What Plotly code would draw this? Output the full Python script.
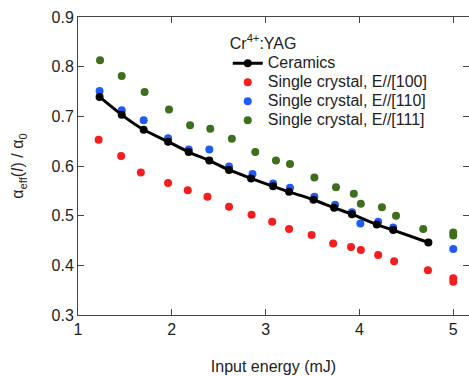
import plotly.graph_objects as go

# Ceramics
cer_x = [1.23, 1.466, 1.70, 1.96, 2.18, 2.40, 2.61, 2.845, 3.08, 3.25, 3.51, 3.73, 3.92, 4.185, 4.36, 4.735]
cer_y = [0.739, 0.703, 0.673, 0.649, 0.628, 0.611, 0.592, 0.575, 0.559, 0.548, 0.532, 0.516, 0.503, 0.482, 0.471, 0.446]

# Single crystal, E//[100]
red_x = [1.22, 1.46, 1.67, 1.96, 2.17, 2.38, 2.61, 2.85, 3.07, 3.25, 3.49, 3.72, 3.91, 4.015, 4.20, 4.37, 4.73, 5.0, 5.0]
red_y = [0.653, 0.620, 0.587, 0.566, 0.551, 0.538, 0.518, 0.502, 0.488, 0.473, 0.461, 0.444, 0.437, 0.431, 0.421, 0.408, 0.390, 0.374, 0.367]

# Single crystal, E//[110]
blue_x = [1.23, 1.466, 1.70, 1.96, 2.18, 2.40, 2.61, 2.86, 3.08, 3.26, 3.52, 3.74, 3.92, 4.01, 4.20, 4.36, 5.0]
blue_y = [0.751, 0.712, 0.692, 0.656, 0.633, 0.633, 0.599, 0.584, 0.565, 0.556, 0.538, 0.522, 0.507, 0.484, 0.488, 0.476, 0.433]

# Single crystal, E//[111]
green_x = [1.235, 1.466, 1.71, 1.97, 2.195, 2.41, 2.64, 2.89, 3.11, 3.26, 3.52, 3.75, 3.94, 4.015, 4.24, 4.39, 4.68, 5.0, 5.0]
green_y = [0.813, 0.781, 0.749, 0.714, 0.682, 0.675, 0.655, 0.628, 0.611, 0.604, 0.577, 0.557, 0.544, 0.524, 0.517, 0.500, 0.473, 0.466, 0.460]

x_ticks = [1, 2, 3, 4, 5]
y_ticks = [0.3, 0.4, 0.5, 0.6, 0.7, 0.8, 0.9]

names = ["Ceramics", "Single crystal, E//[100]", "Single crystal, E//[110]", "Single crystal, E//[111]"]
colors = ["#000000", "#f51d1d", "#1f5cf5", "#3f6e1c"]

FONT = "Liberation Sans, Arial, sans-serif"
TXT = "#222222"

def nm(s):
    return '<span style="font-size:16px">' + s + '</span>'

fig = go.Figure()
fig.add_trace(go.Scatter(x=red_x, y=red_y, mode="markers", name=nm(names[1]),
                         marker=dict(color=colors[1], size=8), legendrank=2))
fig.add_trace(go.Scatter(x=blue_x, y=blue_y, mode="markers", name=nm(names[2]),
                         marker=dict(color=colors[2], size=8), legendrank=3))
fig.add_trace(go.Scatter(x=green_x, y=green_y, mode="markers", name=nm(names[3]),
                         marker=dict(color=colors[3], size=8), legendrank=4))
fig.add_trace(go.Scatter(x=cer_x, y=cer_y, mode="lines+markers", name=nm(names[0]),
                         line=dict(color=colors[0], width=3, shape="spline", smoothing=0.6),
                         marker=dict(color=colors[0], size=8), legendrank=1))
# right-side inner ticks (no data)
fig.add_trace(go.Scatter(x=[], y=[], yaxis="y2", showlegend=False))

fig.update_layout(
    width=469, height=376,
    margin=dict(l=78, r=0, t=17, b=61),
    paper_bgcolor="white", plot_bgcolor="white",
    font=dict(family=FONT, size=16, color=TXT),
    showlegend=True,
    legend=dict(
        x=0.383, y=0.963, xanchor="left", yanchor="top",
        bgcolor="rgba(0,0,0,0)", borderwidth=0,
        font=dict(family=FONT, size=12, color=TXT),
        title=dict(text="Cr<sup>4+</sup>:YAG", font=dict(family=FONT, size=16, color=TXT)),
        itemclick=False,
    ),
    xaxis=dict(
        range=[1, 5.168], tickvals=x_ticks, ticktext=[str(v) for v in x_ticks],
        ticks="inside", ticklen=6, tickcolor="#444", tickwidth=1,
        showline=True, linecolor="#444", linewidth=1, mirror="ticks",
        showgrid=False, zeroline=False, automargin=False,
        tickfont=dict(family=FONT, size=16, color=TXT),
        title=dict(text="Input energy (mJ)", font=dict(family=FONT, size=16, color=TXT), standoff=23),
    ),
    yaxis=dict(
        range=[0.3, 0.9], tickvals=y_ticks, ticktext=["%.1f" % v for v in y_ticks],
        ticks="inside", ticklen=6, tickcolor="#444", tickwidth=1,
        showline=True, linecolor="#444", linewidth=1, mirror=False,
        showgrid=False, zeroline=False, automargin=False,
        tickfont=dict(family=FONT, size=16, color=TXT),
        title=dict(text="α<sub>eff</sub>(<i>I</i>) / α<sub>0</sub>",
                   font=dict(family=FONT, size=16, color=TXT), standoff=23),
    ),
    yaxis2=dict(
        range=[0.3, 0.9], tickvals=y_ticks, overlaying="y", side="right",
        ticks="inside", ticklen=6, tickcolor="#444", showticklabels=False,
        showline=False, showgrid=False, zeroline=False, automargin=False,
    ),
)

fig.write_html("out.html", config={"displayModeBar": False},
               post_script="document.body.style.margin='0px';")
